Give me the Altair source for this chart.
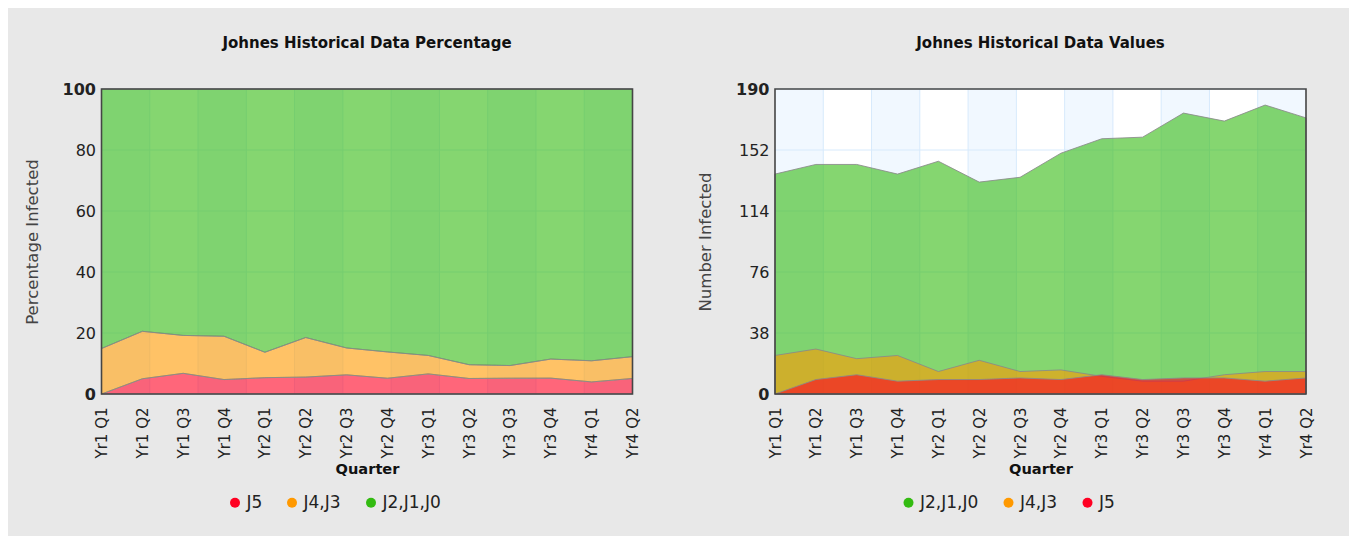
import altair as alt
import pandas as pd

# ---------------- data ----------------
quarters = ["Yr1 Q1", "Yr1 Q2", "Yr1 Q3", "Yr1 Q4",
            "Yr2 Q1", "Yr2 Q2", "Yr2 Q3", "Yr2 Q4",
            "Yr3 Q1", "Yr3 Q2", "Yr3 Q3", "Yr3 Q4",
            "Yr4 Q1", "Yr4 Q2"]
j5 = [0, 9, 12, 8, 9, 9, 10, 9, 12, 9, 10, 10, 8, 10]
j4_j3 = [24, 28, 22, 24, 14, 21, 14, 15, 11, 8, 8, 12, 14, 14]
j2_j1_j0 = [137, 143, 143, 137, 145, 132, 135, 150, 159, 160, 175, 170, 180, 172]

series_names = ["J5", "J4,J3", "J2,J1,J0"]
series_colors = ["#ff0022", "#ff9900", "#33bb11"]
pct_ticks = [0, 20, 40, 60, 80, 100]
val_ticks = [0, 38, 76, 114, 152, 190]

rows = []
for i, q in enumerate(quarters):
    for k, (name, vals) in enumerate(zip(series_names, [j5, j4_j3, j2_j1_j0])):
        rows.append({"quarter": q, "series": name, "value": vals[i], "ord": k})
df = pd.DataFrame(rows)
color_of = dict(zip(series_names, series_colors))

# ---------------- styling ----------------
W, H = 531, 305
FONT = "DejaVu Sans"
BAND = "#f1f8ff"
GRID = "#d7eafc"
N_DIV = 11
LINE = dict(stroke="#8a8a8a", strokeWidth=1, strokeOpacity=0.85, fillOpacity=0.6,
            interpolate="linear")


def background():
    xs = alt.Scale(domain=[0, N_DIV], nice=False, zero=False)
    bands = (alt.Chart(alt.sequence(0, N_DIV, as_="i"))
             .transform_filter("datum.i % 2 == 0")
             .transform_calculate(j="datum.i + 1")
             .mark_rect(color=BAND)
             .encode(x=alt.X("i:Q", scale=xs, axis=None), x2="j:Q",
                     y=alt.value(0), y2=alt.value(H)))
    vlines = (alt.Chart(alt.sequence(1, N_DIV, as_="i"))
              .mark_rule(color=GRID, strokeWidth=1)
              .encode(x=alt.X("i:Q", scale=xs, axis=None)))
    return alt.layer(bands, vlines)


def frame():
    return (alt.Chart(alt.sequence(0, 1, as_="f"))
            .mark_rect(filled=False, stroke="#454545", strokeWidth=1.6)
            .encode(x=alt.value(0), x2=alt.value(W), y=alt.value(0), y2=alt.value(H)))


def y_axis(title, ticks):
    return alt.Axis(
        title=title, values=ticks, grid=False, ticks=False, domain=False,
        labelFontSize=16, labelColor="#222", labelPadding=6,
        labelFontWeight={"condition": {"test": f"datum.value == {ticks[0]} || datum.value == {ticks[-1]}",
                                       "value": "bold"}, "value": "normal"},
        titleFontSize=16.5, titleFontWeight="normal", titleColor="#444", titlePadding=22)


def y_enc(field, ticks, title, stack):
    return alt.Y(field, stack=stack,
                 scale=alt.Scale(domain=[ticks[0], ticks[-1]], nice=False),
                 axis=y_axis(title, ticks))


def hlines(ticks, title):
    return (alt.Chart(pd.DataFrame({"t": ticks}))
            .mark_rule(color=GRID, strokeWidth=1)
            .encode(y=y_enc("t:Q", ticks, title, None)))


x_axis = alt.Axis(title="Quarter", labelAngle=270, labelFontSize=15, labelColor="#222",
                  labelPadding=13, ticks=False, domain=False, grid=False,
                  titleFontSize=14.6, titleFontWeight="bold", titleColor="#111", titlePadding=4)
x_enc = alt.X("quarter:N", sort=quarters, scale=alt.Scale(padding=0), axis=x_axis)


def color_enc(order):
    return alt.Color(
        "series:N",
        scale=alt.Scale(domain=order, range=[color_of[s] for s in order]),
        legend=alt.Legend(title=None, orient="none", legendX=125, legendY=405,
                          direction="horizontal", symbolType="circle", symbolSize=100,
                          symbolOpacity=1, symbolStrokeWidth=0, labelFontSize=17,
                          labelOffset=3, columnPadding=21, labelColor="#222"))


# ---------------- left: percentage (100% stacked) ----------------
left_order = ["J5", "J4,J3", "J2,J1,J0"]
left_area = (alt.Chart(df)
             .transform_joinaggregate(total="sum(value)", groupby=["quarter"])
             .transform_calculate(pct="datum.value / datum.total * 100")
             .mark_area(**LINE)
             .encode(x=x_enc,
                     y=y_enc("pct:Q", pct_ticks, "Percentage Infected", "zero"),
                     color=color_enc(left_order),
                     order=alt.Order("ord:Q")))
left = (alt.layer(background(),
                  alt.layer(hlines(pct_ticks, "Percentage Infected"), left_area, frame()))
        .resolve_scale(x="independent")
        .properties(width=W, height=H, title="Johnes Historical Data Percentage"))

# ---------------- right: values (overlapping areas) ----------------
right_order = ["J2,J1,J0", "J4,J3", "J5"]
right_layers = []
for name in right_order:
    right_layers.append(
        alt.Chart(df)
        .transform_filter(alt.datum.series == name)
        .mark_area(**LINE)
        .encode(x=x_enc,
                y=y_enc("value:Q", val_ticks, "Number Infected", None),
                color=color_enc(right_order)))
right = (alt.layer(background(),
                   alt.layer(hlines(val_ticks, "Number Infected"), *right_layers, frame()))
         .resolve_scale(x="independent")
         .properties(width=W, height=H, title="Johnes Historical Data Values"))

chart = (alt.hconcat(left, right, spacing=56.5)
         .resolve_scale(color="independent")
         .resolve_legend(color="independent")
         .properties(padding={"left": 15.5, "top": 28, "right": 34, "bottom": 25})
         .configure(background="#e8e8e8", font=FONT)
         .configure_view(strokeWidth=0, fill="white")
         .configure_title(fontSize=15, fontWeight="bold", color="#111", anchor="middle",
                          offset=30))

chart.save("out.html", embed_options={"renderer": "svg", "actions": False})
